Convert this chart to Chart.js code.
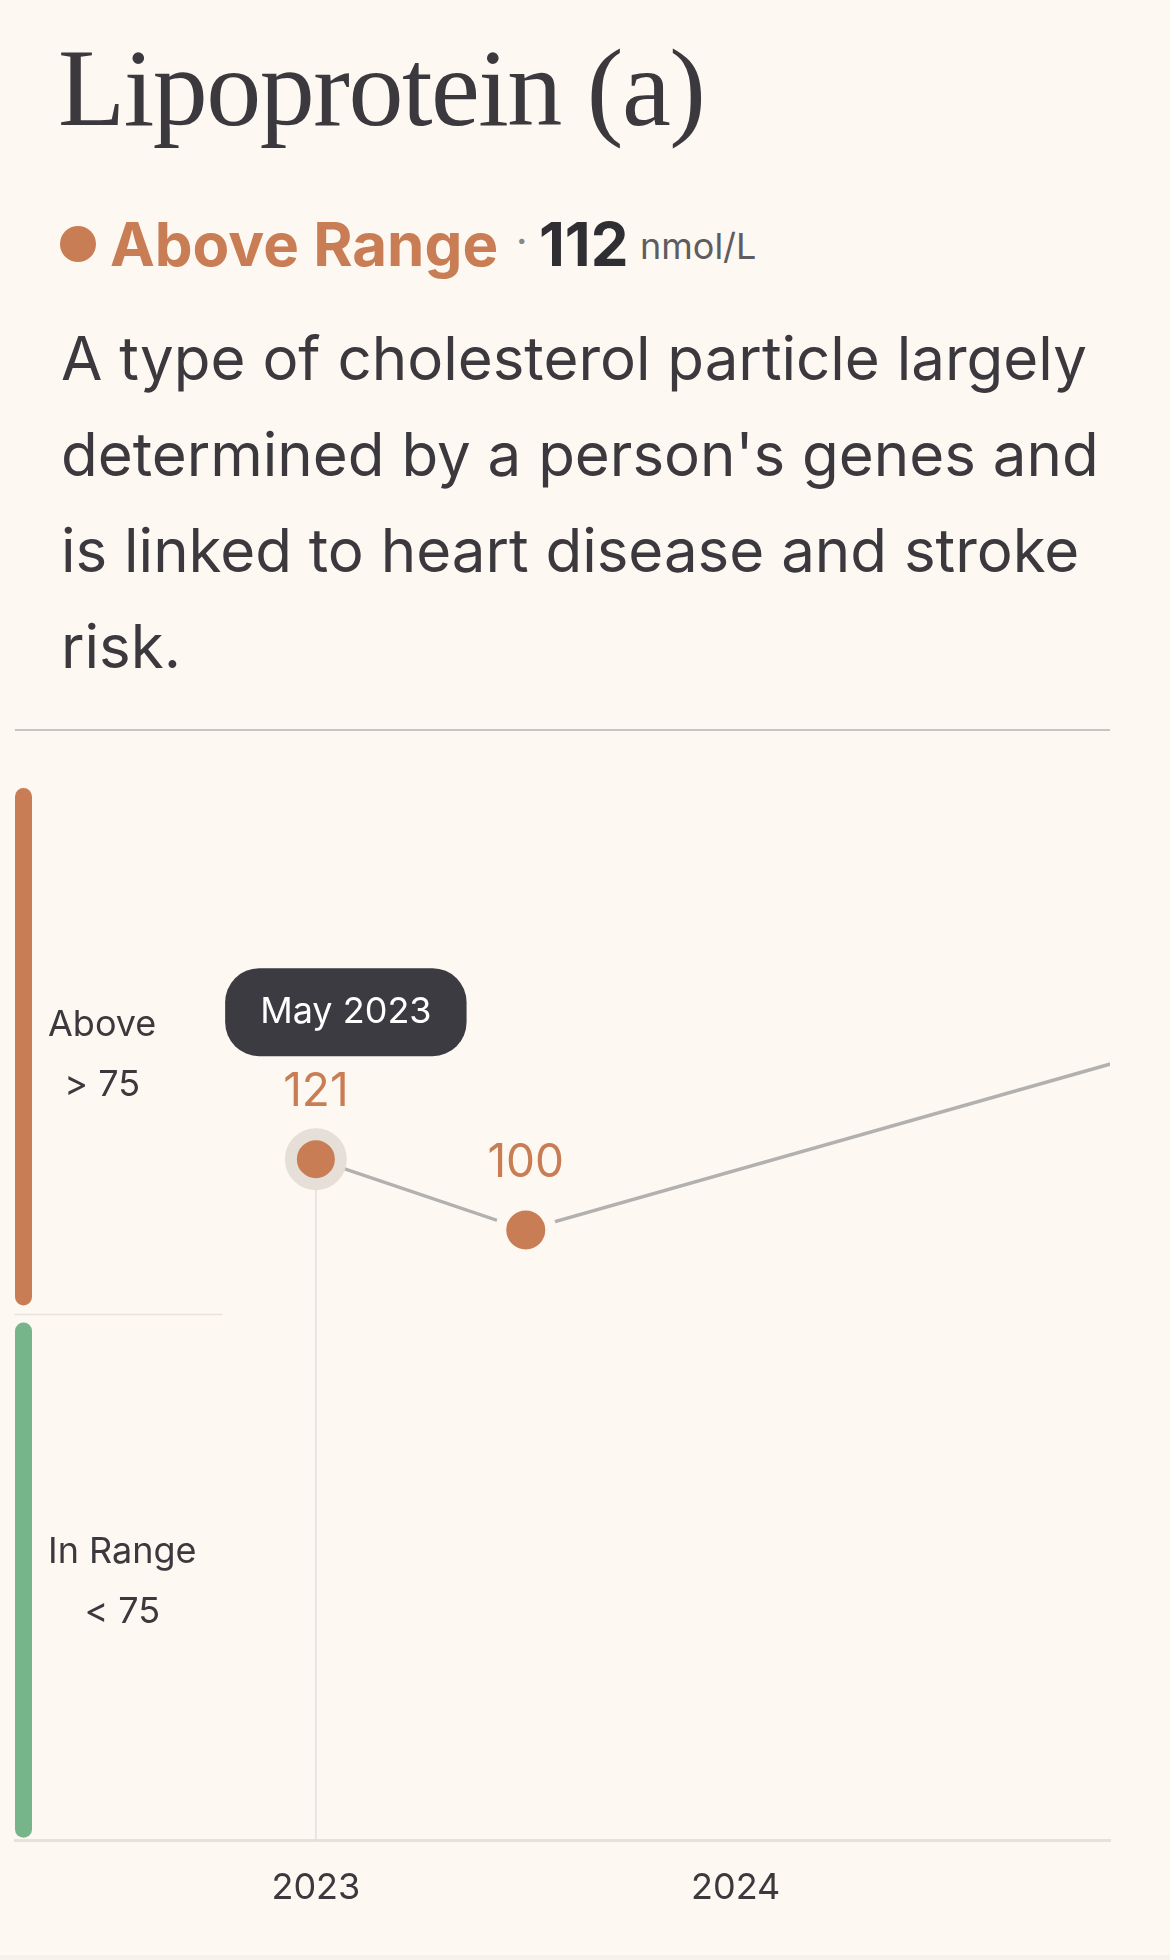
<!DOCTYPE html>
<html>
<head>
<meta charset="utf-8">
<script src="https://cdn.jsdelivr.net/npm/chart.js@4.4.1/dist/chart.umd.min.js"></script>
<style>
html,body{margin:0;padding:0;background:#fdf8f2;}
body{width:1170px;height:1960px;position:relative;overflow:hidden;font-family:Inter,sans-serif;color:#3b393e;}
.abs{position:absolute;white-space:nowrap;line-height:1;}
#title{left:58px;top:33px;font-family:'Liberation Serif',serif;font-size:110px;letter-spacing:-1.5px;color:#3b393e;}
#dot{left:60px;top:226px;width:36px;height:36px;border-radius:50%;background:#c97d55;}
#status{left:110px;top:214px;font-size:60px;font-weight:700;color:#c97d55;}
#sep{left:516px;top:221px;font-size:40px;color:#8a8580;}
#value{left:539px;top:214px;font-size:60px;font-weight:700;color:#2f2e33;}
#unit{left:640px;top:228px;font-size:36px;color:#5f5c60;}
#desc{left:61px;top:310px;font-size:60px;line-height:96px;color:#3b393e;white-space:nowrap;}
#rule{left:15px;top:729px;width:1095px;height:2px;background:#c8c4bf;}
#wrap{position:absolute;left:0;top:740px;width:1170px;height:1220px;}
#foot{left:0;top:1955px;width:1170px;height:5px;background:#f6f1eb;}
</style>
</head>
<body>
<div class="abs" id="title">Lipoprotein (a)</div>
<div class="abs" id="dot"></div>
<div class="abs" id="status">Above Range</div>
<div class="abs" id="sep">·</div>
<div class="abs" id="value">112</div>
<div class="abs" id="unit">nmol/L</div>
<div class="abs" id="desc">A type of cholesterol particle largely<br>determined by a person's genes and<br>is linked to heart disease and stroke<br>risk.</div>
<div class="abs" id="rule"></div>
<div id="wrap"><canvas id="c"></canvas></div>
<div class="abs" id="foot"></div>
<script>
// ---- data ----
const pointDates = ['May 2023', 'Nov 2023', 'May 2025'];
const pointMonths = [4, 10, 28];          // months since Jan 2023
const pointValues = [121, 100, 153];      // nmol/L
const tickMonths = [4, 16];
const tickLabels = ['2023', '2024'];
const zoneNames = ['Above', 'In Range'];
const zoneRanges = ['> 75', '< 75'];
const zoneThreshold = 75;
const activeIndex = 0;

const BG = '#fdf8f2';
const ORANGE = '#c97d55';
const GREEN = '#76b58a';
const TEXT = '#3b393e';

const zonePlugin = {
  id: 'zones',
  beforeDatasetsDraw(chart) {
    const {ctx, chartArea: a, scales: {x, y}} = chart;
    const ty = y.getPixelForValue(zoneThreshold);
    ctx.save();
    const bw = 17, l = a.left;
    function bar(top, bottom, color) {
      ctx.beginPath();
      ctx.lineCap = 'round';
      ctx.strokeStyle = color;
      ctx.lineWidth = bw;
      ctx.moveTo(l + bw / 2, top + bw / 2);
      ctx.lineTo(l + bw / 2, bottom - bw / 2);
      ctx.stroke();
    }
    bar(a.top, ty - 9, ORANGE);
    bar(ty + 8, a.bottom - 3, GREEN);
    ctx.strokeStyle = '#e8e2db';
    ctx.lineWidth = 1.5;
    ctx.beginPath();
    ctx.moveTo(l, ty);
    ctx.lineTo(l + 207, ty);
    ctx.stroke();
    ctx.font = '36px Inter';
    ctx.fillStyle = TEXT;
    ctx.textAlign = 'center';
    ctx.textBaseline = 'alphabetic';
    const centers = [(a.top + ty) / 2, (ty + a.bottom) / 2];
    for (let i = 0; i < zoneNames.length; i++) {
      const w = Math.max(ctx.measureText(zoneNames[i]).width, ctx.measureText(zoneRanges[i]).width);
      const cx = l + 33 + w / 2;
      ctx.fillText(zoneNames[i], cx, centers[i] - 15);
      ctx.fillText(zoneRanges[i], cx, centers[i] + 45);
    }
    const meta = chart.getDatasetMeta(0);
    const p = meta.data[activeIndex];
    ctx.strokeStyle = '#e4dfd9';
    ctx.lineWidth = 1.5;
    ctx.beginPath();
    ctx.moveTo(p.x, p.y + 30);
    ctx.lineTo(p.x, a.bottom);
    ctx.stroke();
    ctx.restore();
  },
  afterDatasetsDraw(chart) {
    const {ctx, chartArea: a} = chart;
    const meta = chart.getDatasetMeta(0);
    ctx.save();
    ctx.font = '46px Inter';
    ctx.fillStyle = ORANGE;
    ctx.textAlign = 'center';
    ctx.textBaseline = 'alphabetic';
    meta.data.forEach((p, i) => {
      if (p.x < a.left || p.x > a.right) return;
      ctx.fillText(String(pointValues[i]), p.x, p.y - 53);
    });
    const p = meta.data[activeIndex];
    ctx.font = '36px Inter';
    const tw = ctx.measureText(pointDates[activeIndex]).width;
    const w = tw + 70, h = 88;
    const cx = p.x + 30;
    const top = p.y - 191;
    ctx.fillStyle = '#3c3b42';
    ctx.beginPath();
    ctx.roundRect(cx - w / 2, top, w, h, 34);
    ctx.fill();
    ctx.fillStyle = '#ffffff';
    ctx.textBaseline = 'middle';
    ctx.fillText(pointDates[activeIndex], cx, top + h / 2);
    ctx.restore();
  }
};

new Chart(document.getElementById('c'), {
  type: 'line',
  data: {
    datasets: [{
      data: pointMonths.map((m, i) => ({x: m, y: pointValues[i]})),
      borderColor: '#b2b1af',
      borderWidth: 3.5,
      tension: 0,
      pointRadius: 25,
      pointBackgroundColor: ORANGE,
      pointBorderColor: pointValues.map((v, i) => i === activeIndex ? '#e5dfd8' : BG),
      pointBorderWidth: pointValues.map((v, i) => i === activeIndex ? 12 : 11),
      pointHoverRadius: 25
    }]
  },
  options: {
    responsive: true,
    maintainAspectRatio: false,
    animation: false,
    events: [],
    layout: {autoPadding: false, padding: {top: 48, left: 15, right: 60, bottom: 24}},
    plugins: {legend: {display: false}, tooltip: {enabled: false}},
    scales: {
      x: {
        type: 'linear',
        min: -4.6,
        max: 26.7,
        grid: {display: false, drawTicks: false},
        border: {display: true, color: '#e6e1da', width: 3},
        afterBuildTicks: (s) => { s.ticks = tickMonths.map(v => ({value: v})); },
        ticks: {
          padding: 26,
          color: TEXT,
          font: {family: 'Inter', size: 36},
          callback: (v) => tickLabels[tickMonths.indexOf(v)]
        }
      },
      y: {
        display: false,
        min: -81,
        max: 231
      }
    }
  },
  plugins: [zonePlugin]
});
</script>
</body>
</html>
